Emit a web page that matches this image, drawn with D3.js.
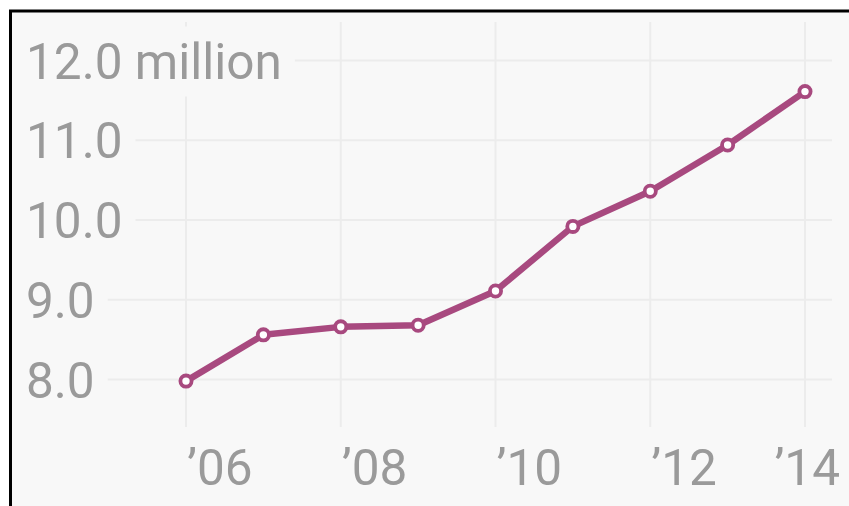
<!DOCTYPE html>
<html>
<head>
<meta charset="utf-8">
<script src="https://cdn.jsdelivr.net/npm/d3@7"></script>
<style>
  html, body { margin: 0; padding: 0; background: #ffffff; }
  svg { display: block; }
  text { font-family: Roboto, "Noto Sans", sans-serif; }
</style>
</head>
<body>
<svg id="chart" width="849" height="506"></svg>
<script>
// Annual totals, millions
const years = [2006, 2007, 2008, 2009, 2010, 2011, 2012, 2013, 2014];
const values = [7.98, 8.56, 8.66, 8.68, 9.11, 9.92, 10.36, 10.94, 11.61];

const yTicks = [8, 9, 10, 11, 12];
const yTickLabels = ["8.0", "9.0", "10.0", "11.0", "12.0 million"];
const xTicks = [2006, 2008, 2010, 2012, 2014];
const xTickLabels = ["\u201906", "\u201908", "\u201910", "\u201912", "\u201914"];

const W = 849, H = 506;
const bg = "#f8f8f8";
const gridColor = "#ececec";
const labelColor = "#9a9a9a";
const lineColor = "#a8497f";

const svg = d3.select("#chart");

// panel with a black frame on top and left
svg.append("rect").attr("x", 10).attr("y", 11).attr("width", W).attr("height", H)
  .attr("fill", bg);
svg.append("path")
  .attr("d", `M10.5,${H + 5} L10.5,11 L${W + 5},11`)
  .attr("fill", "none").attr("stroke", "#000").attr("stroke-width", 3);

const x = d3.scaleLinear().domain([2006, 2014]).range([186, 805]);
const y = d3.scaleLinear().domain([8, 12]).range([379.5, 60.5]);

const grid = svg.append("g");
// vertical gridlines
grid.selectAll("line.v").data(xTicks).join("line")
  .attr("class", "v")
  .attr("x1", d => x(d)).attr("x2", d => x(d))
  .attr("y1", 22).attr("y2", 427)
  .attr("stroke", gridColor).attr("stroke-width", 2);
// horizontal gridlines
grid.selectAll("line.h").data(yTicks).join("line")
  .attr("class", "h")
  .attr("x1", 20).attr("x2", 832)
  .attr("y1", d => y(d)).attr("y2", d => y(d))
  .attr("stroke", gridColor).attr("stroke-width", 2);

// y tick labels, knocked out of the gridlines
const yLab = svg.append("g");
yTicks.forEach((t, i) => {
  const g = yLab.append("g");
  const rect = g.append("rect").attr("fill", bg);
  const txt = g.append("text")
    .attr("x", 26).attr("y", y(t) + 18)
    .attr("font-size", 49.5)
    .attr("fill", labelColor)
    .text(yTickLabels[i]);
  const bb = txt.node().getBBox();
  rect.attr("x", bb.x - 6).attr("y", bb.y - 6)
    .attr("width", bb.width + 19).attr("height", bb.height + 12);
});

// x tick labels
svg.append("g").selectAll("text").data(xTicks).join("text")
  .attr("x", (d, i) => i === xTicks.length - 1 ? 840 : x(d) + 1)
  .attr("text-anchor", (d, i) => i === xTicks.length - 1 ? "end" : "start")
  .attr("y", 485)
  .attr("font-size", 49.5)
  .attr("fill", labelColor)
  .text((d, i) => xTickLabels[i]);

const data = years.map((yr, i) => ({ yr, v: values[i] }));

svg.append("path").datum(data)
  .attr("fill", "none")
  .attr("stroke", lineColor)
  .attr("stroke-width", 6.5)
  .attr("stroke-linejoin", "round")
  .attr("d", d3.line().x(d => x(d.yr)).y(d => y(d.v)));

svg.append("g").selectAll("circle").data(data).join("circle")
  .attr("cx", d => x(d.yr)).attr("cy", d => y(d.v))
  .attr("r", 5.6)
  .attr("fill", "#ffffff")
  .attr("stroke", lineColor)
  .attr("stroke-width", 3.8);
</script>
</body>
</html>
